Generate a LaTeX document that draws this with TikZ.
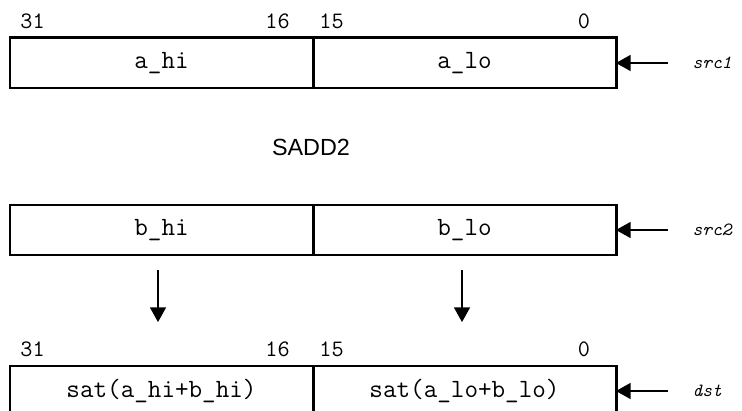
\documentclass[tikz,border=0pt]{standalone}
\usepackage{fontspec}
\setsansfont{Liberation Sans}
\usetikzlibrary{arrows.meta}

\begin{document}
\begin{tikzpicture}[x=0.2mm,y=-0.2mm,line width=0.6pt,
  >={Triangle[length=2.9mm,width=3.2mm]},
  field/.style={draw,line width=1.7pt,outer sep=0pt,inner sep=0pt,
    minimum width=60.6mm,minimum height=10mm,
    font=\ttfamily\fontsize{15pt}{17pt}\selectfont},
  bit/.style={inner sep=0pt,font=\ttfamily\fontsize{13.4pt}{15pt}\selectfont},
  reg/.style={anchor=west,inner xsep=4.8mm,inner ysep=0pt,
    font=\ttfamily\itshape\fontsize{10.6pt}{12pt}\selectfont}]
  \useasboundingbox (0,0) rectangle (742,411);
  \clip (0,0) rectangle (742,411);
  \node[bit] (t31) at (32.5,21) {31};
  \node[bit] (t16) at (277.5,21) {16};
  \node[bit] (t15) at (331.5,21) {15};
  \node[bit] (t0) at (584,21) {0};
  \node[field] (ahi) at (161.5,63) {a\_hi};
  \node[field] (alo) at (464.5,63) {a\_lo};
  \node[reg] (src1) at (668,63) {src1};
  \draw[->] (src1.west) -- (alo.east);
  \node[font=\sffamily\fontsize{13.3pt}{16pt}\selectfont] (op) at (311,147.5) {SADD2};
  \node[field] (bhi) at (161.5,230) {b\_hi};
  \node[field] (blo) at (464.5,230) {b\_lo};
  \node[reg] (src2) at (668,230) {src2};
  \draw[->] (src2.west) -- (blo.east);
  \node[bit] (d31) at (32.5,349) {31};
  \node[bit] (d16) at (277.5,349) {16};
  \node[bit] (d15) at (331.5,349) {15};
  \node[bit] (d0) at (584,349) {0};
  \node[field] (shi) at (161.5,391) {sat(a\_hi+b\_hi)};
  \node[field] (slo) at (464.5,391) {sat(a\_lo+b\_lo)};
  \node[reg] (dst) at (668,391) {dst};
  \draw[->] (dst.west) -- (slo.east);
  \draw[->] ([xshift=-0.7mm,yshift=-3mm]bhi.south) -- ([xshift=-0.7mm,yshift=8.8mm]shi.north);
  \draw[->] ([xshift=-0.5mm,yshift=-3mm]blo.south) -- ([xshift=-0.5mm,yshift=8.8mm]slo.north);
\end{tikzpicture}
\end{document}
